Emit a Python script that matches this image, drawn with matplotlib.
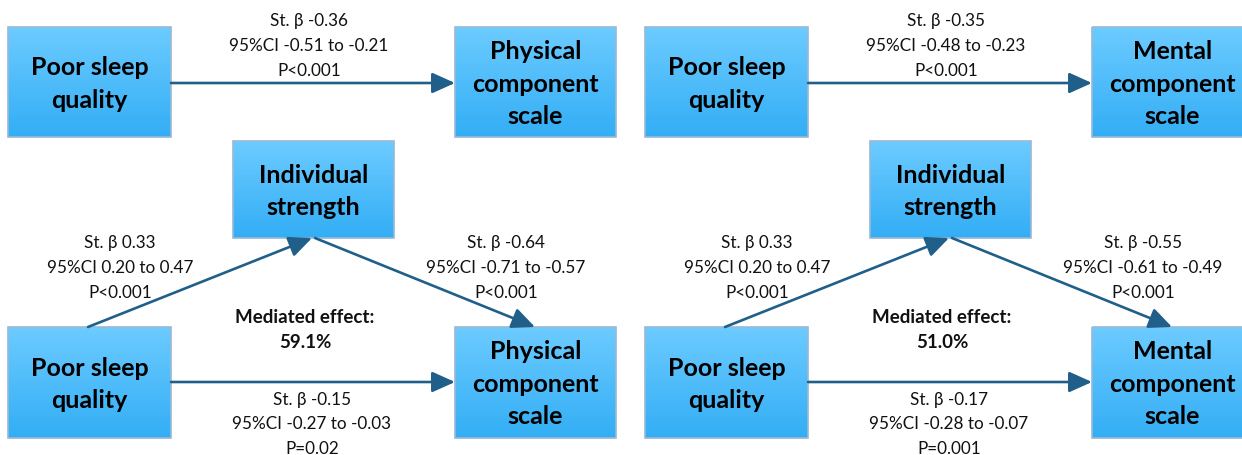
import matplotlib
matplotlib.use("Agg")
import matplotlib.pyplot as plt
import numpy as np
from matplotlib.patches import Rectangle
from matplotlib.colors import to_rgb

# ---- content ----
exposure = "Poor sleep\nquality"
mediator = "Individual\nstrength"
outcomes = ["Physical\ncomponent\nscale", "Mental\ncomponent\nscale"]
total_effect = [["St. β -0.36", "95%CI -0.51 to -0.21", "P<0.001"],
                ["St. β -0.35", "95%CI -0.48 to -0.23", "P<0.001"]]
path_a = [["St. β 0.33", "95%CI 0.20 to 0.47", "P<0.001"],
          ["St. β 0.33", "95%CI 0.20 to 0.47", "P<0.001"]]
path_b = [["St. β -0.64", "95%CI -0.71 to -0.57", "P<0.001"],
          ["St. β -0.55", "95%CI -0.61 to -0.49", "P<0.001"]]
direct_effect = [["St. β -0.15", "95%CI -0.27 to -0.03", "P=0.02"],
                 ["St. β -0.17", "95%CI -0.28 to -0.07", "P=0.001"]]
mediated_pct = ["59.1%", "51.0%"]

W, H = 1242, 456
fig = plt.figure(figsize=(W / 100, H / 100), dpi=100)
ax = fig.add_axes([0, 0, 1, 1])
ax.set_xlim(0, W)
ax.set_ylim(H, 0)
ax.axis("off")

TOP = np.array(to_rgb("#6ccbff"))
BOT = np.array(to_rgb("#33aef5"))
EDGE = "#9ab8d6"
ARROW = "#1f5f8a"
FAM = ["Lato", "DejaVu Sans"]
BOX_FS = 18
TXT_FS = 12.3
MED_FS = 13.5


def box(x0, y0, x1, y1, label):
    n = 64
    t = np.linspace(0, 1, n)[:, None]
    grad = (TOP[None, :] * (1 - t) + BOT[None, :] * t)[:, None, :]
    ax.imshow(grad, extent=(x0, x1, y1, y0), origin="upper", aspect="auto",
              interpolation="bilinear", zorder=2)
    ax.add_patch(Rectangle((x0, y0), x1 - x0, y1 - y0, fill=False,
                           edgecolor=EDGE, lw=1.2, zorder=3))
    ax.text((x0 + x1) / 2, (y0 + y1) / 2 + 1, label, ha="center", va="center",
            fontsize=BOX_FS, fontweight="bold", family=FAM, linespacing=1.5,
            color="black", zorder=4)


def arrow(p0, p1):
    ax.annotate("", xy=p1, xytext=p0, zorder=5,
                arrowprops=dict(arrowstyle="-|>,head_length=1.0,head_width=0.45",
                                mutation_scale=14, color=ARROW, lw=1.9,
                                shrinkA=0, shrinkB=0))


def lines(cx, ys, texts, bold=False, fs=TXT_FS):
    for y, s in zip(ys, texts):
        ax.text(cx, y, s, ha="center", va="center", fontsize=fs,
                family=FAM, fontweight="bold" if bold else "normal",
                color="#111111", zorder=6)


for i in range(2):
    dx = 637 * i
    rx1 = 616 + dx if i == 0 else 1253
    # top panel
    box(8 + dx, 28, 171 + dx, 138, exposure)
    box(455 + dx, 28, rx1, 138, outcomes[i])
    arrow((171 + dx, 84), (455 + dx, 84))
    lines(309 + dx, [21, 46, 71], total_effect[i])
    # mediation panel
    box(233 + dx, 142, 394 + dx, 239, mediator)
    box(8 + dx, 328, 171 + dx, 439, exposure)
    box(455 + dx, 328, rx1, 439, outcomes[i])
    arrow((88 + dx, 328), (312 + dx, 239))
    arrow((315 + dx, 239), (535 + dx, 328))
    arrow((171 + dx, 383), (455 + dx, 383))
    lines(120 + dx, [243, 268, 293], path_a[i])
    lines(506 + dx, [243, 268, 293], path_b[i])
    lines(305 + dx, [318, 343], ["Mediated effect:", mediated_pct[i]], bold=True, fs=MED_FS)
    lines(312 + dx, [400, 424, 449], direct_effect[i])

fig.savefig("out.png", dpi=100)
